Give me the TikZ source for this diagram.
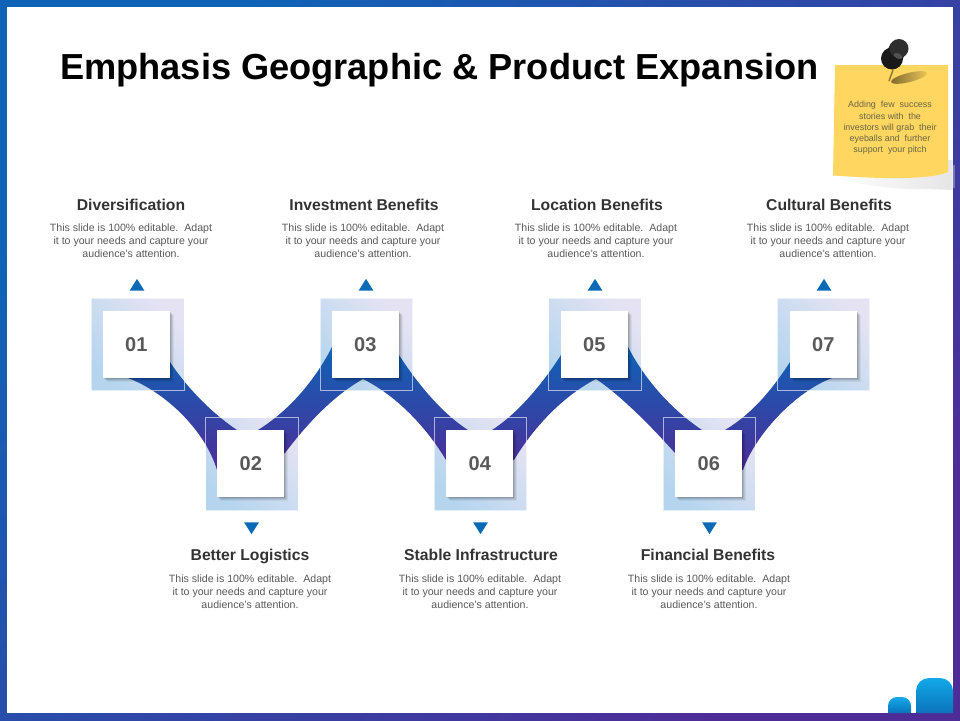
\documentclass[tikz,border=0pt]{standalone}
\usepackage{fontspec}
\setmainfont{Liberation Sans}
\usetikzlibrary{positioning, shapes.geometric, shadows}

\definecolor{framea}{HTML}{0F63B6}
\definecolor{frameb}{HTML}{4E2C98}
\definecolor{backa}{HTML}{B5D5EE}
\definecolor{backb}{HTML}{E5E3F3}
\definecolor{headcol}{HTML}{333333}
\definecolor{bodycol}{HTML}{595959}
\definecolor{markcol}{HTML}{0A6AB5}
\definecolor{notecol}{HTML}{FFD65F}
\definecolor{notetxt}{HTML}{66664A}
\definecolor{tabtop}{HTML}{12A9E9}
\definecolor{tabbot}{HTML}{0B73BC}

\tikzset{
  backsq/.style={minimum size=92pt, inner sep=0pt, top color=backb, bottom color=backa, shading angle=-45},
  tile/.style={fill=white, minimum size=67pt, inner sep=0pt, text=bodycol,
    font=\fontsize{20}{24}\selectfont\bfseries,
    drop shadow={shadow xshift=4pt, shadow yshift=-3.6pt, fill=black, opacity=.05},
    drop shadow={shadow xshift=3pt, shadow yshift=-2.8pt, fill=black, opacity=.07},
    drop shadow={shadow xshift=2pt, shadow yshift=-2pt, fill=black, opacity=.09},
    drop shadow={shadow xshift=1pt, shadow yshift=-1pt, fill=black, opacity=.11}},
  pointer/.style={isosceles triangle, isosceles triangle apex angle=64, isosceles triangle stretches=false,
    fill=markcol, inner sep=0pt, minimum height=11.7pt, xshift=.7pt},
  pointerup/.style={pointer, shape border rotate=90},
  pointerdown/.style={pointer, shape border rotate=-90},
  headtxt/.style={text=headcol, anchor=base, font=\fontsize{15.7}{18}\selectfont\bfseries, inner sep=0pt},
  bodytxt/.style={text=bodycol, align=center, inner sep=0pt, font=\fontsize{10.6}{13}\selectfont},
}

\begin{document}
\begin{tikzpicture}[x=1pt, y=-1pt, on grid]
  \useasboundingbox (0,0) rectangle (960,720);
  % slide frame
  \shade[top color=framea, bottom color=frameb, shading angle=45] (0,0) rectangle (960,720);
  \fill[white] (7.3,7.3) rectangle (952.7,712.5);

  % corner tabs
  \shade[top color=tabtop, bottom color=tabbot] (888,713) [rounded corners=9pt] -- (888,697) -- (911,697) [sharp corners] -- (911,713) -- cycle;
  \shade[top color=tabtop, bottom color=tabbot] (916,713) [rounded corners=13pt] -- (916,678) -- (953,678) [sharp corners] -- (953,713) -- cycle;

  % light squares
  \node[backsq] (back1) at (137.7,344.2) {};
  \node[backsq, below right=119.8pt and 114.3pt of back1] (back2) {};
  \node[backsq, above right=119.8pt and 114.3pt of back2] (back3) {};
  \node[backsq, below right=119.8pt and 114.3pt of back3] (back4) {};
  \node[backsq, above right=119.8pt and 114.3pt of back4] (back5) {};
  \node[backsq, below right=119.8pt and 114.3pt of back5] (back6) {};
  \node[backsq, above right=119.8pt and 114.3pt of back6] (back7) {};

  % ribbon
  \shade[top color=framea, bottom color=frameb]
    (170,362) .. controls (185,385) and (210,412) .. (237,430) -- (258,430)
    .. controls (290,410) and (315,380) .. (332,347) -- (399,355)
    .. controls (415,380) and (440,412) .. (468,430) -- (492,430)
    .. controls (520,412) and (545,380) .. (561,355) -- (628,347)
    .. controls (645,380) and (672,410) .. (702,430) -- (725,430)
    .. controls (755,412) and (775,385) .. (790,362) -- (832,378)
    .. controls (795,392) and (755,435) .. (743,470) -- (675,453)
    .. controls (650,425) and (620,395) .. (596,379)
    .. controls (565,395) and (535,425) .. (514,460) -- (446,460)
    .. controls (425,425) and (395,395) .. (363,379)
    .. controls (335,395) and (310,420) .. (285,453) -- (217,470)
    .. controls (205,430) and (165,392) .. (128,378) -- cycle;
  \draw[white, opacity=.6, line width=.7pt]
    (back1.south west) rectangle (back1.north east)
    (back2.south west) rectangle (back2.north east)
    (back3.south west) rectangle (back3.north east)
    (back4.south west) rectangle (back4.north east)
    (back5.south west) rectangle (back5.north east)
    (back6.south west) rectangle (back6.north east)
    (back7.south west) rectangle (back7.north east);

  % number tiles
  \node[tile] (tile1) at (136.3,344.5) {01};
  \node[tile, below right=119pt and 114.5pt of tile1] (tile2) {02};
  \node[tile, above right=119pt and 114.5pt of tile2] (tile3) {03};
  \node[tile, below right=119pt and 114.5pt of tile3] (tile4) {04};
  \node[tile, above right=119pt and 114.5pt of tile4] (tile5) {05};
  \node[tile, below right=119pt and 114.5pt of tile5] (tile6) {06};
  \node[tile, above right=119pt and 114.5pt of tile6] (tile7) {07};

  % triangles
  \node[pointerup, above=58pt of tile1] (mark1) {};
  \node[pointerdown, below=63pt of tile2] (mark2) {};
  \node[pointerup, above=58pt of tile3] (mark3) {};
  \node[pointerdown, below=63pt of tile4] (mark4) {};
  \node[pointerup, above=58pt of tile5] (mark5) {};
  \node[pointerdown, below=63pt of tile6] (mark6) {};
  \node[pointerup, above=58pt of tile7] (mark7) {};

  % upper texts
  \node[headtxt] (head1) at (131,210.5) {Diversification};
  \node[headtxt] (head3) at (364,210.5) {Investment Benefits};
  \node[headtxt] (head5) at (597,210.5) {Location Benefits};
  \node[headtxt] (head7) at (829,210.5) {Cultural Benefits};
  \node[bodytxt, below=13.5pt of head1.base] (body1) {This slide is 100\% editable.\ \ Adapt\\it to your needs and capture your\\audience's attention.};
  \node[bodytxt, below=13.5pt of head3.base, xshift=-1pt] (body3) {This slide is 100\% editable.\ \ Adapt\\it to your needs and capture your\\audience's attention.};
  \node[bodytxt, below=13.5pt of head5.base, xshift=-1pt] (body5) {This slide is 100\% editable.\ \ Adapt\\it to your needs and capture your\\audience's attention.};
  \node[bodytxt, below=13.5pt of head7.base, xshift=-1pt] (body7) {This slide is 100\% editable.\ \ Adapt\\it to your needs and capture your\\audience's attention.};

  % lower texts
  \node[headtxt] (head2) at (250,560.5) {Better Logistics};
  \node[headtxt] (head4) at (481,560.5) {Stable Infrastructure};
  \node[headtxt] (head6) at (708,560.5) {Financial Benefits};
  \node[bodytxt, below=14.5pt of head2.base] (body2) {This slide is 100\% editable.\ \ Adapt\\it to your needs and capture your\\audience's attention.};
  \node[bodytxt, below=14.5pt of head4.base, xshift=-1pt] (body4) {This slide is 100\% editable.\ \ Adapt\\it to your needs and capture your\\audience's attention.};
  \node[bodytxt, below=14.5pt of head6.base, xshift=1pt] (body6) {This slide is 100\% editable.\ \ Adapt\\it to your needs and capture your\\audience's attention.};

  % title
  \node[anchor=west, inner sep=0pt, font=\fontsize{36.2}{40}\selectfont\bfseries] (title) at (60,70) {Emphasis Geographic \& Product Expansion};

  % sticky note with pin
  \fill[white, opacity=.3] (952.7,165) rectangle (955,188);
  \shade[left color=white, right color=black!10] (832,176) .. controls (855,184) and (890,190) .. (925,189) -- (952.7,190) -- (952.7,160) -- (832,160) -- cycle;
  \fill[notecol] (835,65) -- (948,65) -- (948,172) .. controls (935,178) and (900,179) .. (868,177.5) .. controls (855,177) and (843,176) .. (833,175.5) -- cycle;
  \shade[left color=black!50!notecol, right color=black!8!notecol, rotate around={14:(909,77.5)}] (909,77.5) ellipse [x radius=18.5, y radius=4.6];
  \draw[black!45!notecol, line width=1.4pt] (893,70) -- (889,81);
  \fill[black!90] (892,58.5) circle [radius=11];
  \fill[black!90] (886,53) -- (891,43) -- (906,53) -- (899,65) -- cycle;
  \fill[black!82] (899,48.5) circle [radius=9.5];
  \fill[black!68, rotate around={-25:(898,56)}] (898,56) ellipse [x radius=4.5, y radius=2.6];
  \node[align=center, text=notetxt, inner sep=0pt, font=\fontsize{8.9}{11.3}\selectfont] (note) at (890,128) {Adding\ \ few\ \ success\\stories with\ \ the\\investors will grab\ \ their\\eyeballs and\ \ further\\support\ \ your pitch};
\end{tikzpicture}
\end{document}
